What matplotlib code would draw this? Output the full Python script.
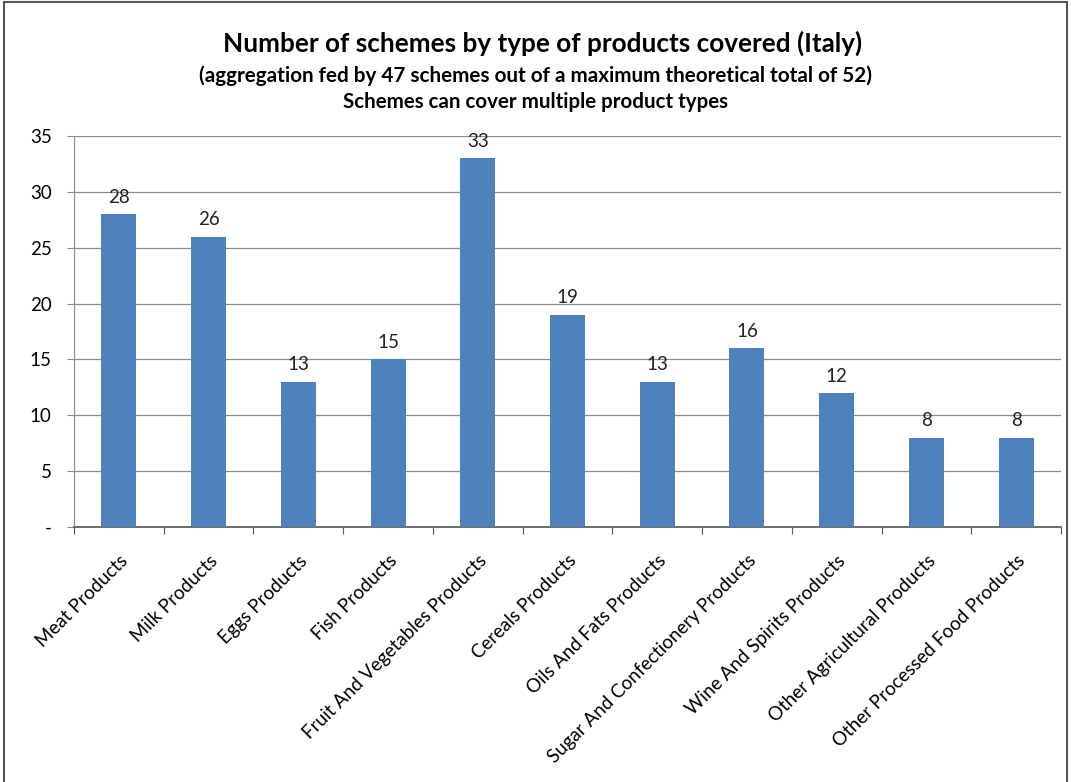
import matplotlib
matplotlib.use('Agg')
import matplotlib.pyplot as plt
from matplotlib.patches import Rectangle

plt.rcParams['font.family'] = ['Lato', 'DejaVu Sans']

# Data
categories = ['Meat Products', 'Milk Products', 'Eggs Products', 'Fish Products',
              'Fruit And Vegetables Products', 'Cereals Products', 'Oils And Fats Products',
              'Sugar And Confectionery Products', 'Wine And Spirits Products',
              'Other Agricultural Products', 'Other Processed Food Products']
values = [28, 26, 13, 15, 33, 19, 13, 16, 12, 8, 8]
y_ticks = [0, 5, 10, 15, 20, 25, 30, 35]
y_tick_labels = ['-', '5', '10', '15', '20', '25', '30', '35']

title_lines = ['Number of schemes by type of products covered (Italy)',
               '(aggregation fed by 47 schemes out of a maximum theoretical total of 52)',
               'Schemes can cover multiple product types']

bar_color = '#4F81BD'

fig = plt.figure(figsize=(10.71, 7.82), dpi=100)
ax = fig.add_axes([0.0691, 0.3261, 0.9216, 0.5])

x = list(range(len(categories)))
bars = ax.bar(x, values, width=0.39, color=bar_color, zorder=3)

# value labels above bars
for xi, v in zip(x, values):
    ax.annotate(str(v), (xi, v), xytext=(0, 6), textcoords='offset points',
                ha='center', va='bottom', fontsize=13.5, color='#222222')

ax.set_xlim(-0.5, len(categories) - 0.5)
ax.set_ylim(0, 35)
ax.set_yticks(y_ticks)
ax.set_yticklabels(y_tick_labels, fontsize=13.5)
ax.yaxis.grid(True, color='#8c8c8c', linewidth=0.9, zorder=0)
ax.set_axisbelow(True)

# category ticks sit between bars, labels at bar centres
ax.set_xticks([i - 0.5 for i in range(len(categories) + 1)])
ax.set_xticklabels([])
ax.set_xticks(x, minor=True)
ax.set_xticklabels(categories, minor=True, rotation=45, ha='right',
                   rotation_mode='anchor', fontsize=13.5)
ax.tick_params(axis='x', which='minor', length=0, pad=18)
ax.tick_params(axis='x', which='major', length=5, color='#555555', direction='out')
ax.tick_params(axis='y', length=5, color='#8c8c8c', pad=11)

for side in ['top', 'right']:
    ax.spines[side].set_visible(False)
ax.spines['left'].set_color('#8c8c8c')
ax.spines['bottom'].set_color('#555555')
ax.spines['bottom'].set_linewidth(1.2)

# titles
fig.text(0.507, 0.945, title_lines[0], ha='center', va='center', fontsize=18.8, fontweight='bold')
fig.text(0.500, 0.903, title_lines[1], ha='center', va='center', fontsize=14.9, fontweight='bold')
fig.text(0.500, 0.870, title_lines[2], ha='center', va='center', fontsize=14.8, fontweight='bold')

# frame around the chart
fig.patches.append(Rectangle((4 / 1071, -0.01), 1063 / 1071, 1.0 - 2 / 782 + 0.01,
                             transform=fig.transFigure, fill=False,
                             edgecolor='#555555', linewidth=1.5))

plt.savefig('out.png', dpi=100)
